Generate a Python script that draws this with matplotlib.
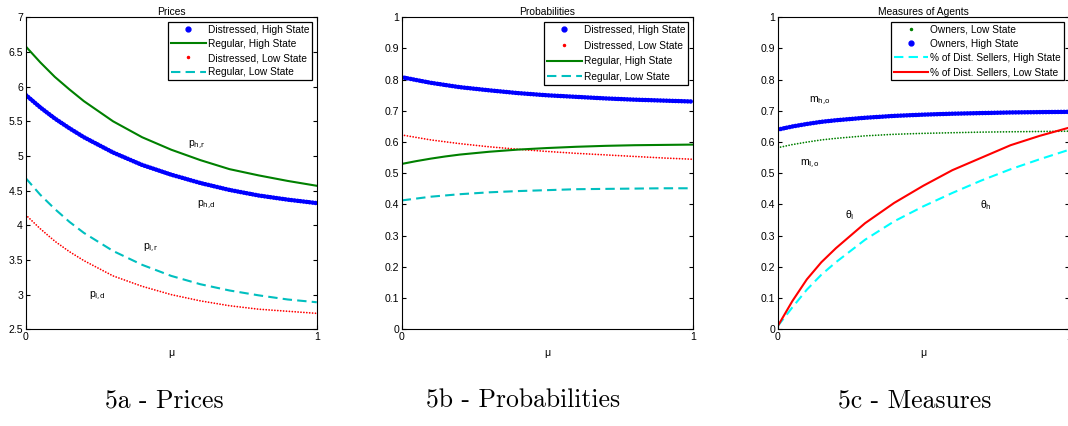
import matplotlib
matplotlib.use("Agg")
import matplotlib.pyplot as plt
from matplotlib.lines import Line2D

# ---------- data ----------
mu = [0, 0.05, 0.1, 0.15, 0.2, 0.3, 0.4, 0.5, 0.6, 0.7, 0.8, 0.9, 1.0]

# 5a - prices
price_dist_high = [5.88, 5.70, 5.54, 5.40, 5.27, 5.05, 4.87, 4.73, 4.61, 4.51, 4.43, 4.37, 4.32]
price_reg_high = [6.58, 6.35, 6.14, 5.96, 5.79, 5.50, 5.27, 5.09, 4.94, 4.81, 4.72, 4.64, 4.57]
price_dist_low = [4.15, 3.95, 3.77, 3.62, 3.49, 3.27, 3.12, 3.00, 2.91, 2.84, 2.79, 2.76, 2.73]
price_reg_low = [4.68, 4.44, 4.235, 4.05, 3.89, 3.63, 3.43, 3.27, 3.15, 3.06, 2.99, 2.93, 2.89]

# 5b - probabilities
prob_dist_high = [0.808, 0.799, 0.790, 0.783, 0.776, 0.766, 0.757, 0.750, 0.745, 0.740, 0.736, 0.733, 0.730]
prob_dist_low = [0.623, 0.615, 0.607, 0.601, 0.595, 0.585, 0.577, 0.570, 0.564, 0.559, 0.554, 0.549, 0.545]
prob_reg_high = [0.530, 0.539, 0.547, 0.554, 0.560, 0.569, 0.576, 0.581, 0.585, 0.588, 0.590, 0.591, 0.592]
prob_reg_low = [0.413, 0.419, 0.425, 0.429, 0.433, 0.439, 0.443, 0.446, 0.449, 0.450, 0.451, 0.452, 0.452]

# 5c - measures
own_low = [0.582, 0.592, 0.600, 0.607, 0.612, 0.620, 0.625, 0.628, 0.630, 0.632, 0.633, 0.634, 0.635]
own_high = [0.640, 0.650, 0.658, 0.665, 0.670, 0.678, 0.684, 0.688, 0.691, 0.693, 0.695, 0.696, 0.697]
sellers_high = [0.01, 0.07, 0.127, 0.175, 0.215, 0.287, 0.346, 0.394, 0.437, 0.477, 0.513, 0.545, 0.575]
sellers_low = [0.01, 0.09, 0.16, 0.215, 0.26, 0.34, 0.405, 0.46, 0.51, 0.55, 0.59, 0.62, 0.646]

price_ticks = [2.5, 3, 3.5, 4, 4.5, 5, 5.5, 6, 6.5, 7]
unit_ticks = [0, 0.1, 0.2, 0.3, 0.4, 0.5, 0.6, 0.7, 0.8, 0.9, 1]
unit_labels = ["0", "0.1", "0.2", "0.3", "0.4", "0.5", "0.6", "0.7", "0.8", "0.9", "1"]

# ---------- style ----------
plt.rcParams["font.family"] = ["Liberation Sans", "DejaVu Sans"]
plt.rcParams["font.size"] = 7
plt.rcParams["axes.linewidth"] = 0.8

BLUE, GREEN, RED = "#0000FF", "#008000", "#FF0000"
CYAN, CYAN2 = "#00BFBF", "#00FFFF"

fig = plt.figure(figsize=(10.68, 4.26), dpi=100)
W = 0.2725
axa = fig.add_axes([0.0241, 0.227, W, 0.7324])
axb = fig.add_axes([0.3761, 0.227, W, 0.7324])
axc = fig.add_axes([0.7282, 0.227, W, 0.7324])


def fat_dots(ax, x, y, color):
    # dense thick markers, MATLAB style
    ax.plot(x, y, color=color, lw=3.3, ls=(0, (0.01, 0.65)), dash_capstyle="round")


def thin_dots(ax, x, y, color):
    ax.plot(x, y, color=color, lw=1.3, ls=(0, (0.01, 1.6)), dash_capstyle="round")


def solid(ax, x, y, color):
    ax.plot(x, y, color=color, lw=1.5)


def dashed(ax, x, y, color):
    ax.plot(x, y, color=color, lw=1.5, ls=(0, (4.5, 2.5)))


def h_fat(color, label):
    return Line2D([], [], color=color, marker=".", ms=7, ls="none", label=label)


def h_thin(color, label):
    return Line2D([], [], color=color, marker=".", ms=3, ls="none", label=label)


def h_solid(color, label):
    return Line2D([], [], color=color, lw=1.5, label=label)


def h_dashed(color, label):
    return Line2D([], [], color=color, lw=1.5, ls=(0, (4.5, 2.5)), label=label)


def frame(ax, title, yticks, ylabels, ylim):
    ax.set_xlim(0, 1)
    ax.set_ylim(*ylim)
    ax.set_xticks([0, 1])
    ax.set_xticklabels(["0", "1"])
    ax.set_yticks(yticks)
    ax.set_yticklabels(ylabels)
    ax.tick_params(direction="in", length=3, width=0.8, top=True, right=True,
                   labelsize=7.6, pad=2)
    ax.set_title(title, fontsize=7.4, pad=2)
    ax.set_xlabel("μ", fontsize=7.6, labelpad=4)


def legend(ax, handles, spacing=0.4):
    leg = ax.legend(handles=handles, loc="upper right", fontsize=7.3,
                    handlelength=3.4, handletextpad=0.2, labelspacing=spacing,
                    borderaxespad=0.45, borderpad=0.3, fancybox=False,
                    framealpha=1, edgecolor="black")
    leg.get_frame().set_linewidth(0.9)


def note(ax, x, y, s):
    ax.text(x, y, s, ha="center", va="center", fontsize=7.6)


# ---------- 5a ----------
fat_dots(axa, mu, price_dist_high, BLUE)
solid(axa, mu, price_reg_high, GREEN)
thin_dots(axa, mu, price_dist_low, RED)
dashed(axa, mu, price_reg_low, CYAN)
frame(axa, "Prices", price_ticks, [f"{t:g}" for t in price_ticks], (2.5, 7))
legend(axa, [h_fat(BLUE, "Distressed, High State"),
             h_solid(GREEN, "Regular, High State"),
             h_thin(RED, "Distressed, Low State"),
             h_dashed(CYAN, "Regular, Low State")])
note(axa, 0.59, 5.15, r"p$_{\rm h{,}r}$")
note(axa, 0.62, 4.29, r"p$_{\rm h{,}d}$")
note(axa, 0.43, 3.67, r"p$_{\rm l{,}r}$")
note(axa, 0.245, 2.98, r"p$_{\rm l{,}d}$")

# ---------- 5b ----------
fat_dots(axb, mu, prob_dist_high, BLUE)
thin_dots(axb, mu, prob_dist_low, RED)
solid(axb, mu, prob_reg_high, GREEN)
dashed(axb, mu, prob_reg_low, CYAN)
frame(axb, "Probabilities", unit_ticks, unit_labels, (0, 1))
legend(axb, [h_fat(BLUE, "Distressed, High State"),
             h_thin(RED, "Distressed, Low State"),
             h_solid(GREEN, "Regular, High State"),
             h_dashed(CYAN, "Regular, Low State")], spacing=0.55)

# ---------- 5c ----------
thin_dots(axc, mu, own_low, GREEN)
fat_dots(axc, mu, own_high, BLUE)
dashed(axc, mu, sellers_high, CYAN2)
solid(axc, mu, sellers_low, RED)
frame(axc, "Measures of Agents", unit_ticks, unit_labels, (0, 1))
legend(axc, [h_thin(GREEN, "Owners, Low State"),
             h_fat(BLUE, "Owners, High State"),
             h_dashed(CYAN2, "% of Dist. Sellers, High State"),
             h_solid(RED, "% of Dist. Sellers, Low State")])
note(axc, 0.145, 0.73, r"m$_{\rm h{,}o}$")
note(axc, 0.11, 0.527, r"m$_{\rm l{,}o}$")
note(axc, 0.248, 0.366, r"θ$_{\rm l}$")
note(axc, 0.715, 0.398, r"θ$_{\rm h}$")

# ---------- captions ----------
for cx, cap in [(164, "5a - Prices"), (523, "5b - Probabilities"), (915, "5c - Measures")]:
    fig.text(cx / 1068, 1 - 401 / 426, cap, ha="center", va="center",
             fontsize=18.5, family=["cmr10", "DejaVu Serif"])

fig.savefig("out.png", dpi=100)
